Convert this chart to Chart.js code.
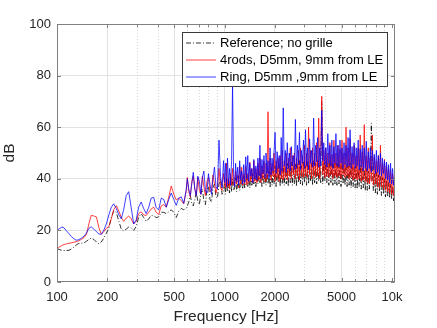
<!DOCTYPE html>
<html>
<head>
<meta charset="utf-8">
<script src="https://cdn.jsdelivr.net/npm/chart.js@4.4.1/dist/chart.umd.min.js"></script>
<style>
    html, body { margin: 0; padding: 0; background: #fff; }
    #wrap { width: 437px; height: 328px; }
</style>
</head>
<body>
<div id="wrap"><canvas id="spectrumChart" width="437" height="328"></canvas></div>
<script>
// spectra (Hz / dB)
const freqHz = [
    100, 103, 107, 110, 114, 118, 122, 126, 130, 135,
    140, 145, 150, 155, 160, 166, 172, 178, 184, 190,
    197, 204, 211, 218, 226, 234, 242, 250, 259, 268,
    277, 287, 297, 307, 318, 329, 341, 353, 365, 378,
    391, 405, 419, 434, 449, 465, 481, 498, 515, 533,
    552, 571, 590,
    600, 612, 625, 638, 651, 665, 679, 693, 708, 723,
    738, 753, 769, 785, 802, 819, 836, 853, 871, 890,
    908, 927, 947, 967, 987,
    1000, 1014, 1028, 1042, 1057, 1072, 1087, 1102, 1117, 1133,
    1149, 1165, 1181, 1198, 1215, 1232, 1249, 1266, 1284, 1302,
    1320, 1339, 1358, 1377, 1396, 1416, 1436, 1456, 1476, 1497,
    1518, 1539, 1561, 1583, 1605, 1627, 1650, 1673, 1697, 1720,
    1745, 1769, 1794, 1819, 1845, 1871, 1897, 1923, 1950, 1978,
    2005, 2033, 2062, 2091, 2120, 2150, 2180, 2211, 2242, 2273,
    2305, 2337, 2370, 2403, 2437, 2471, 2506, 2541, 2577, 2613,
    2650, 2687, 2725, 2763, 2802, 2841, 2881, 2921, 2962, 3004,
    3046, 3089, 3132, 3176, 3221, 3266, 3312, 3358, 3405, 3453,
    3502, 3551, 3601, 3651, 3702, 3754, 3807, 3860, 3914, 3969,
    4025, 4081, 4138, 4196, 4255, 4315, 4375, 4437, 4499, 4562,
    4626, 4691, 4756, 4823, 4890, 4959, 5028, 5099, 5170, 5243,
    5316, 5390, 5466, 5542, 5620, 5699, 5778, 5859, 5941, 6025,
    6109, 6195, 6281, 6369, 6459, 6549, 6641, 6734, 6828, 6924,
    7021, 7119, 7219, 7320, 7422, 7526, 7632, 7739, 7847, 7957,
    8068, 8181, 8296, 8412, 8530, 8649, 8770, 8893, 9017, 9144,
    9272, 9402, 9533, 9667, 9802, 9939, 10078, 10219, 10362
]

const refDb = [
    13.0, 12.6, 12.3, 12.2, 12.2, 12.3, 12.8, 13.5, 14.3, 15.0,
    15.0, 15.2, 15.8, 16.5, 17.0, 16.5, 15.5, 14.8, 15.5, 17.0,
    18.8, 21.0, 25.0, 27.6, 27.0, 23.5, 20.5, 19.8, 20.5, 21.3,
    21.0, 20.0, 21.5, 25.0, 26.5, 25.0, 23.5, 24.5, 25.8, 25.6,
    25.0, 25.2, 27.0, 27.0, 26.5, 27.2, 28.0, 27.0, 25.0, 27.5,
    28.5, 28.0, 28.5,
    29.5, 31.0, 33.5, 30.5, 29.5, 32.0, 35.0, 31.0, 30.0, 34.5,
    36.0, 31.5, 30.0, 35.5, 37.0, 32.0, 31.0, 36.5, 38.0, 33.0,
    32.5, 38.0, 40.0, 34.0, 35.5,
    38.5, 34.0, 40.0, 35.0, 38.0, 34.5, 41.0, 35.0, 40.0, 35.5,
    36.5, 40.5, 35.0, 38.0, 41.0, 35.5, 37.0, 40.0, 36.0, 41.0,
    36.5, 38.5, 42.0, 37.0, 40.0, 36.5, 41.5, 37.5, 42.0, 38.0,
    41.0, 37.0, 42.5, 38.0, 43.0, 38.5, 42.0, 37.0, 43.5, 38.0,
    42.0, 37.5, 44.0, 38.0, 43.0, 36.5, 44.5, 37.5, 43.0, 38.0,
    45.0, 37.0, 44.0, 38.5, 45.5, 37.0, 44.0, 38.0, 45.0, 37.5,
    44.5, 38.0, 46.0, 37.0, 45.0, 38.5, 46.5, 37.5, 45.0, 38.0,
    46.0, 37.0, 45.5, 38.5, 47.0, 38.0, 45.0, 37.5, 46.5, 38.5,
    45.0, 37.5, 47.0, 38.0, 45.5, 39.0, 46.0, 37.5, 47.0, 38.5,
    46.0, 38.0, 47.5, 39.0, 45.5, 38.5, 70.0, 38.0, 46.5, 39.0,
    47.0, 38.5, 46.0, 37.5, 47.5, 38.5, 46.0, 37.5, 47.0, 38.0,
    46.0, 37.5, 47.0, 38.0, 45.5, 37.0, 46.5, 38.0, 45.0, 37.5,
    46.0, 37.0, 45.0, 37.5, 46.0, 36.5, 45.0, 37.0, 44.5, 36.5,
    45.0, 36.0, 44.0, 37.0, 45.5, 36.0, 44.0, 36.5, 43.5, 35.5,
    44.0, 35.5, 43.0, 36.0, 42.5, 61.5, 43.0, 35.5, 42.0, 34.5,
    42.5, 34.0, 41.5, 35.0, 41.0, 33.5, 40.5, 34.0, 40.0, 33.0,
    39.5, 33.0, 38.5, 32.5, 38.0, 32.0, 37.0, 31.5, 35.0
]

const rodsDb = [
    12.8, 13.5, 14.2, 14.5, 14.8, 15.0, 15.2, 15.4, 15.6, 16.0,
    16.5, 17.2, 18.5, 22.5, 25.8, 25.6, 25.2, 21.0, 18.5, 19.5,
    20.8, 21.5, 24.5, 28.0, 29.6, 27.5, 25.0, 23.5, 24.8, 25.6,
    24.5, 22.5, 23.5, 26.5, 27.2, 26.0, 25.8, 27.0, 28.3, 29.0,
    27.0, 26.2, 29.5, 30.0, 29.0, 33.0, 37.2, 34.0, 31.8, 32.5,
    31.5, 30.3, 35.0,
    40.5, 35.0, 33.0, 39.0, 41.0, 36.0, 33.5, 40.5, 35.5, 34.0,
    41.0, 37.0, 33.5, 39.0, 40.5, 35.0, 35.5, 41.5, 38.0, 34.5,
    37.0, 44.0, 36.5, 35.5, 42.0,
    39.0, 36.5, 46.0, 37.0, 40.0, 36.0, 42.0, 37.5, 44.0, 38.0,
    37.0, 43.0, 38.0, 41.5, 36.5, 45.0, 38.0, 44.5, 37.5, 42.0,
    38.0, 45.0, 37.5, 42.0, 38.5, 46.5, 39.0, 44.0, 38.5, 47.0,
    39.0, 44.0, 38.5, 46.0, 39.5, 48.0, 38.5, 45.0, 40.0, 47.0,
    39.0, 46.0, 40.0, 66.0, 41.0, 48.0, 39.5, 46.0, 41.0, 50.0,
    39.0, 47.0, 40.5, 48.0, 39.0, 49.0, 40.0, 51.0, 39.5, 47.0,
    40.5, 50.0, 39.5, 48.0, 41.0, 52.0, 40.0, 49.0, 41.5, 50.0,
    40.0, 48.0, 41.0, 51.0, 39.5, 52.0, 41.0, 49.0, 40.5, 53.0,
    41.0, 50.0, 40.5, 60.0, 41.5, 51.0, 40.0, 52.0, 41.0, 50.0,
    40.5, 54.0, 41.0, 63.5, 40.0, 50.5, 72.0, 41.5, 51.0, 40.5,
    52.0, 41.0, 50.0, 40.5, 54.0, 41.5, 49.5, 40.0, 55.0, 41.0,
    50.0, 40.5, 53.0, 41.0, 51.5, 40.0, 55.0, 41.5, 50.0, 40.5,
    60.0, 41.0, 52.0, 40.0, 55.5, 40.5, 50.0, 39.5, 53.0, 40.0,
    49.0, 39.5, 52.0, 40.0, 57.0, 39.0, 50.5, 39.5, 61.0, 39.0,
    49.0, 38.5, 52.0, 38.0, 48.0, 39.0, 57.0, 37.5, 48.5, 38.0,
    47.0, 37.0, 49.0, 36.5, 53.0, 37.0, 46.0, 36.0, 47.5, 35.5,
    45.0, 35.0, 44.0, 34.5, 43.5, 34.0, 42.0, 33.5, 38.0
]

const ringDb = [
    20.0, 20.6, 21.3, 21.0, 19.8, 18.7, 17.6, 16.8, 16.2, 16.4,
    17.0, 17.8, 19.0, 20.8, 21.4, 20.5, 19.5, 18.6, 18.5, 20.0,
    22.5, 26.0, 29.0, 30.3, 28.5, 26.0, 24.5, 28.0, 33.5, 35.0,
    29.0, 22.5, 24.0, 29.0, 31.0, 28.5, 26.5, 29.0, 32.5, 32.8,
    28.8, 28.0, 32.5, 32.0, 29.0, 32.0, 34.5, 32.0, 29.7, 32.5,
    33.0, 30.5, 35.5,
    40.0, 36.0, 33.5, 38.0, 42.5, 36.0, 33.5, 41.0, 39.0, 34.0,
    40.5, 43.0, 35.5, 34.5, 42.0, 38.0, 34.0, 40.0, 44.5, 37.0,
    36.0, 55.0, 41.0, 36.5, 47.0,
    38.5, 46.0, 37.0, 48.0, 38.0, 44.0, 37.5, 47.0, 77.0, 42.0,
    37.0, 46.0, 39.0, 44.5, 37.5, 47.0, 39.5, 43.0, 38.0, 45.5,
    38.5, 48.5, 40.0, 49.0, 39.0, 46.0, 41.0, 44.0, 38.5, 47.5,
    40.0, 45.0, 39.5, 48.0, 41.0, 53.0, 40.0, 47.5, 42.0, 49.0,
    40.5, 50.0, 42.0, 47.0, 40.0, 52.0, 41.5, 48.0, 43.0, 51.0,
    58.0, 42.0, 50.5, 44.0, 49.0, 41.5, 56.0, 43.0, 67.5, 45.0,
    51.0, 42.5, 54.0, 44.0, 50.0, 43.0, 52.5, 45.0, 49.0, 43.5,
    63.0, 44.0, 53.0, 45.5, 58.0, 43.5, 51.0, 46.0, 55.0, 44.0,
    59.0, 45.0, 52.0, 43.5, 55.5, 46.0, 51.0, 44.5, 63.5, 45.0,
    53.0, 46.5, 56.0, 44.5, 52.0, 45.0, 66.5, 47.0, 54.0, 45.5,
    52.0, 44.5, 57.5, 46.0, 53.0, 45.0, 55.0, 44.0, 52.5, 46.0,
    57.5, 45.0, 53.0, 44.5, 55.0, 46.0, 52.0, 44.0, 54.0, 45.5,
    53.0, 44.5, 56.0, 45.0, 59.0, 44.0, 52.5, 45.5, 54.0, 44.0,
    52.0, 45.0, 55.0, 43.5, 51.5, 44.5, 53.0, 43.0, 52.0, 44.0,
    54.5, 43.0, 50.5, 44.0, 52.0, 42.5, 51.0, 43.5, 49.5, 42.0,
    51.0, 42.5, 49.0, 41.5, 50.0, 41.0, 48.0, 42.0, 47.0, 40.0,
    46.5, 39.5, 45.5, 38.5, 46.0, 38.0, 44.0, 37.5, 42.0
]

const seriesNames = ['Reference; no grille', '4rods, D5mm, 9mm from LE', 'Ring, D5mm ,9mm from LE']
const xTickHz = [100, 200, 300, 400, 500, 600, 700, 800, 900, 1000, 2000, 3000, 4000, 5000, 6000, 7000, 8000, 9000, 10000]
const xLabelHz = [100, 200, 500, 1000, 2000, 5000, 10000]
const xLabelText = ['100', '200', '500', '1000', '2000', '5000', '10k']
const yTicks = [0, 20, 40, 60, 80, 100]

const FONT = '"Liberation Sans", Arial, Helvetica, sans-serif'
const gridColor = '#e2e2e2'
const boxColor = '#808080'
const refDash = [5, 2, 1, 2]
const lineColors = ['#000000', '#ff0000', '#0000ff']
const lineWidths = [0.8, 0.75, 0.75]

const toPoints = vals => freqHz.map((f, i) => ({ x: f, y: vals[i] }))

// matlab-ish box, inward ticks, dotted minor grid and the legend
const matlabAxes = {
    id: 'matlabAxes',
    beforeDatasetsDraw(chart) {
        const { ctx, chartArea: a, scales: { x } } = chart
        ctx.save()
        ctx.strokeStyle = '#d6d6d6'
        ctx.lineWidth = 1
        ctx.setLineDash([1, 2])
        xTickHz.forEach(v => {
            if (xLabelHz.includes(v)) return
            const px = Math.round(x.getPixelForValue(v)) + 0.5
            ctx.beginPath()
            ctx.moveTo(px, a.top)
            ctx.lineTo(px, a.bottom)
            ctx.stroke()
        })
        ctx.restore()
    },
    afterDatasetsDraw(chart) {
        const { ctx, chartArea: a, scales: { x, y } } = chart
        ctx.save()
        ctx.strokeStyle = boxColor
        ctx.lineWidth = 1
        ctx.setLineDash([])
        const L = Math.round(a.left) + 0.5, R = Math.round(a.right) - 0.5
        const T = Math.round(a.top) + 0.5, B = Math.round(a.bottom) - 0.5
        ctx.strokeRect(L, T, R - L, B - T)

        ctx.beginPath()
        xTickHz.forEach(v => {
            const px = Math.round(x.getPixelForValue(v)) + 0.5
            const len = xLabelHz.includes(v) ? 3.5 : 2.5
            ctx.moveTo(px, B); ctx.lineTo(px, B - len)
            ctx.moveTo(px, T); ctx.lineTo(px, T + len)
        })
        yTicks.forEach(v => {
            const py = Math.round(y.getPixelForValue(v)) + 0.5
            ctx.moveTo(L, py); ctx.lineTo(L + 3.5, py)
            ctx.moveTo(R, py); ctx.lineTo(R - 3.5, py)
        })
        ctx.stroke()

        // legend
        const lx = 182.5, ly = 32.5, lw = 205, lh = 54
        ctx.fillStyle = '#fff'
        ctx.fillRect(lx, ly, lw, lh)
        ctx.strokeStyle = '#3a3a3a'
        ctx.strokeRect(lx, ly, lw, lh)
        ctx.font = '13px ' + FONT
        ctx.textBaseline = 'middle'
        ctx.textAlign = 'left'
        seriesNames.forEach((name, i) => {
            const rowY = Math.round(ly + 10 + i * 17.2)
            ctx.strokeStyle = lineColors[i]
            ctx.lineWidth = lineWidths[i]
            ctx.setLineDash(i === 0 ? refDash : [])
            ctx.beginPath()
            ctx.moveTo(186, rowY)
            ctx.lineTo(216, rowY)
            ctx.stroke()
            ctx.setLineDash([])
            ctx.fillStyle = '#000'
            ctx.fillText(name, 220, rowY + 0.5)
        })
        ctx.restore()
    }
}

const ctx = document.getElementById('spectrumChart').getContext('2d')
const spectrumChart = new Chart(ctx, {
    type: 'line',
    data: {
        datasets: [{
            label: seriesNames[0],
            data: toPoints(refDb),
            borderColor: lineColors[0],
            borderWidth: lineWidths[0],
            borderDash: refDash,
            pointRadius: 0,
            order: 2
        }, {
            label: seriesNames[1],
            data: toPoints(rodsDb),
            borderColor: lineColors[1],
            borderWidth: lineWidths[1],
            pointRadius: 0,
            order: 1
        }, {
            label: seriesNames[2],
            data: toPoints(ringDb),
            borderColor: lineColors[2],
            borderWidth: lineWidths[2],
            pointRadius: 0,
            order: 0
        }]
    },
    options: {
        responsive: false,
        animation: false,
        devicePixelRatio: 1,
        layout: { padding: { top: 24, right: 42, left: 0, bottom: 0 } },
        elements: { line: { tension: 0 } },
        plugins: {
            legend: { display: false },
            tooltip: { enabled: false }
        },
        scales: {
            x: {
                type: 'logarithmic',
                min: 100,
                max: 10420,
                afterBuildTicks: scale => { scale.ticks = xTickHz.map(v => ({ value: v })) },
                afterFit: scale => { scale.height = 46 },
                ticks: {
                    autoSkip: false,
                    maxRotation: 0,
                    padding: 8,
                    color: '#262626',
                    font: { family: FONT, size: 13 },
                    callback: value => {
                        const i = xLabelHz.indexOf(value)
                        return i >= 0 ? xLabelText[i] : ''
                    }
                },
                grid: {
                    drawTicks: false,
                    color: c => (c.tick && xLabelHz.includes(c.tick.value) && c.tick.value !== 100 && c.tick.value !== 10000) ? gridColor : 'rgba(0,0,0,0)'
                },
                border: { display: false },
                title: {
                    display: true,
                    text: 'Frequency [Hz]',
                    color: '#262626',
                    font: { family: FONT, size: 15.5 },
                    padding: { top: 0, bottom: 2 }
                }
            },
            y: {
                min: 0,
                max: 100,
                afterBuildTicks: scale => { scale.ticks = yTicks.map(v => ({ value: v })) },
                afterFit: scale => { scale.width = 57 },
                ticks: {
                    padding: 6,
                    color: '#262626',
                    font: { family: FONT, size: 13 }
                },
                grid: {
                    drawTicks: false,
                    color: c => (c.tick && c.tick.value > 0 && c.tick.value < 100) ? gridColor : 'rgba(0,0,0,0)'
                },
                border: { display: false },
                title: {
                    display: true,
                    text: 'dB',
                    color: '#262626',
                    font: { family: FONT, size: 15.5 },
                    padding: { top: 0, bottom: 6 }
                }
            }
        }
    },
    plugins: [matlabAxes]
})
</script>
</body>
</html>
